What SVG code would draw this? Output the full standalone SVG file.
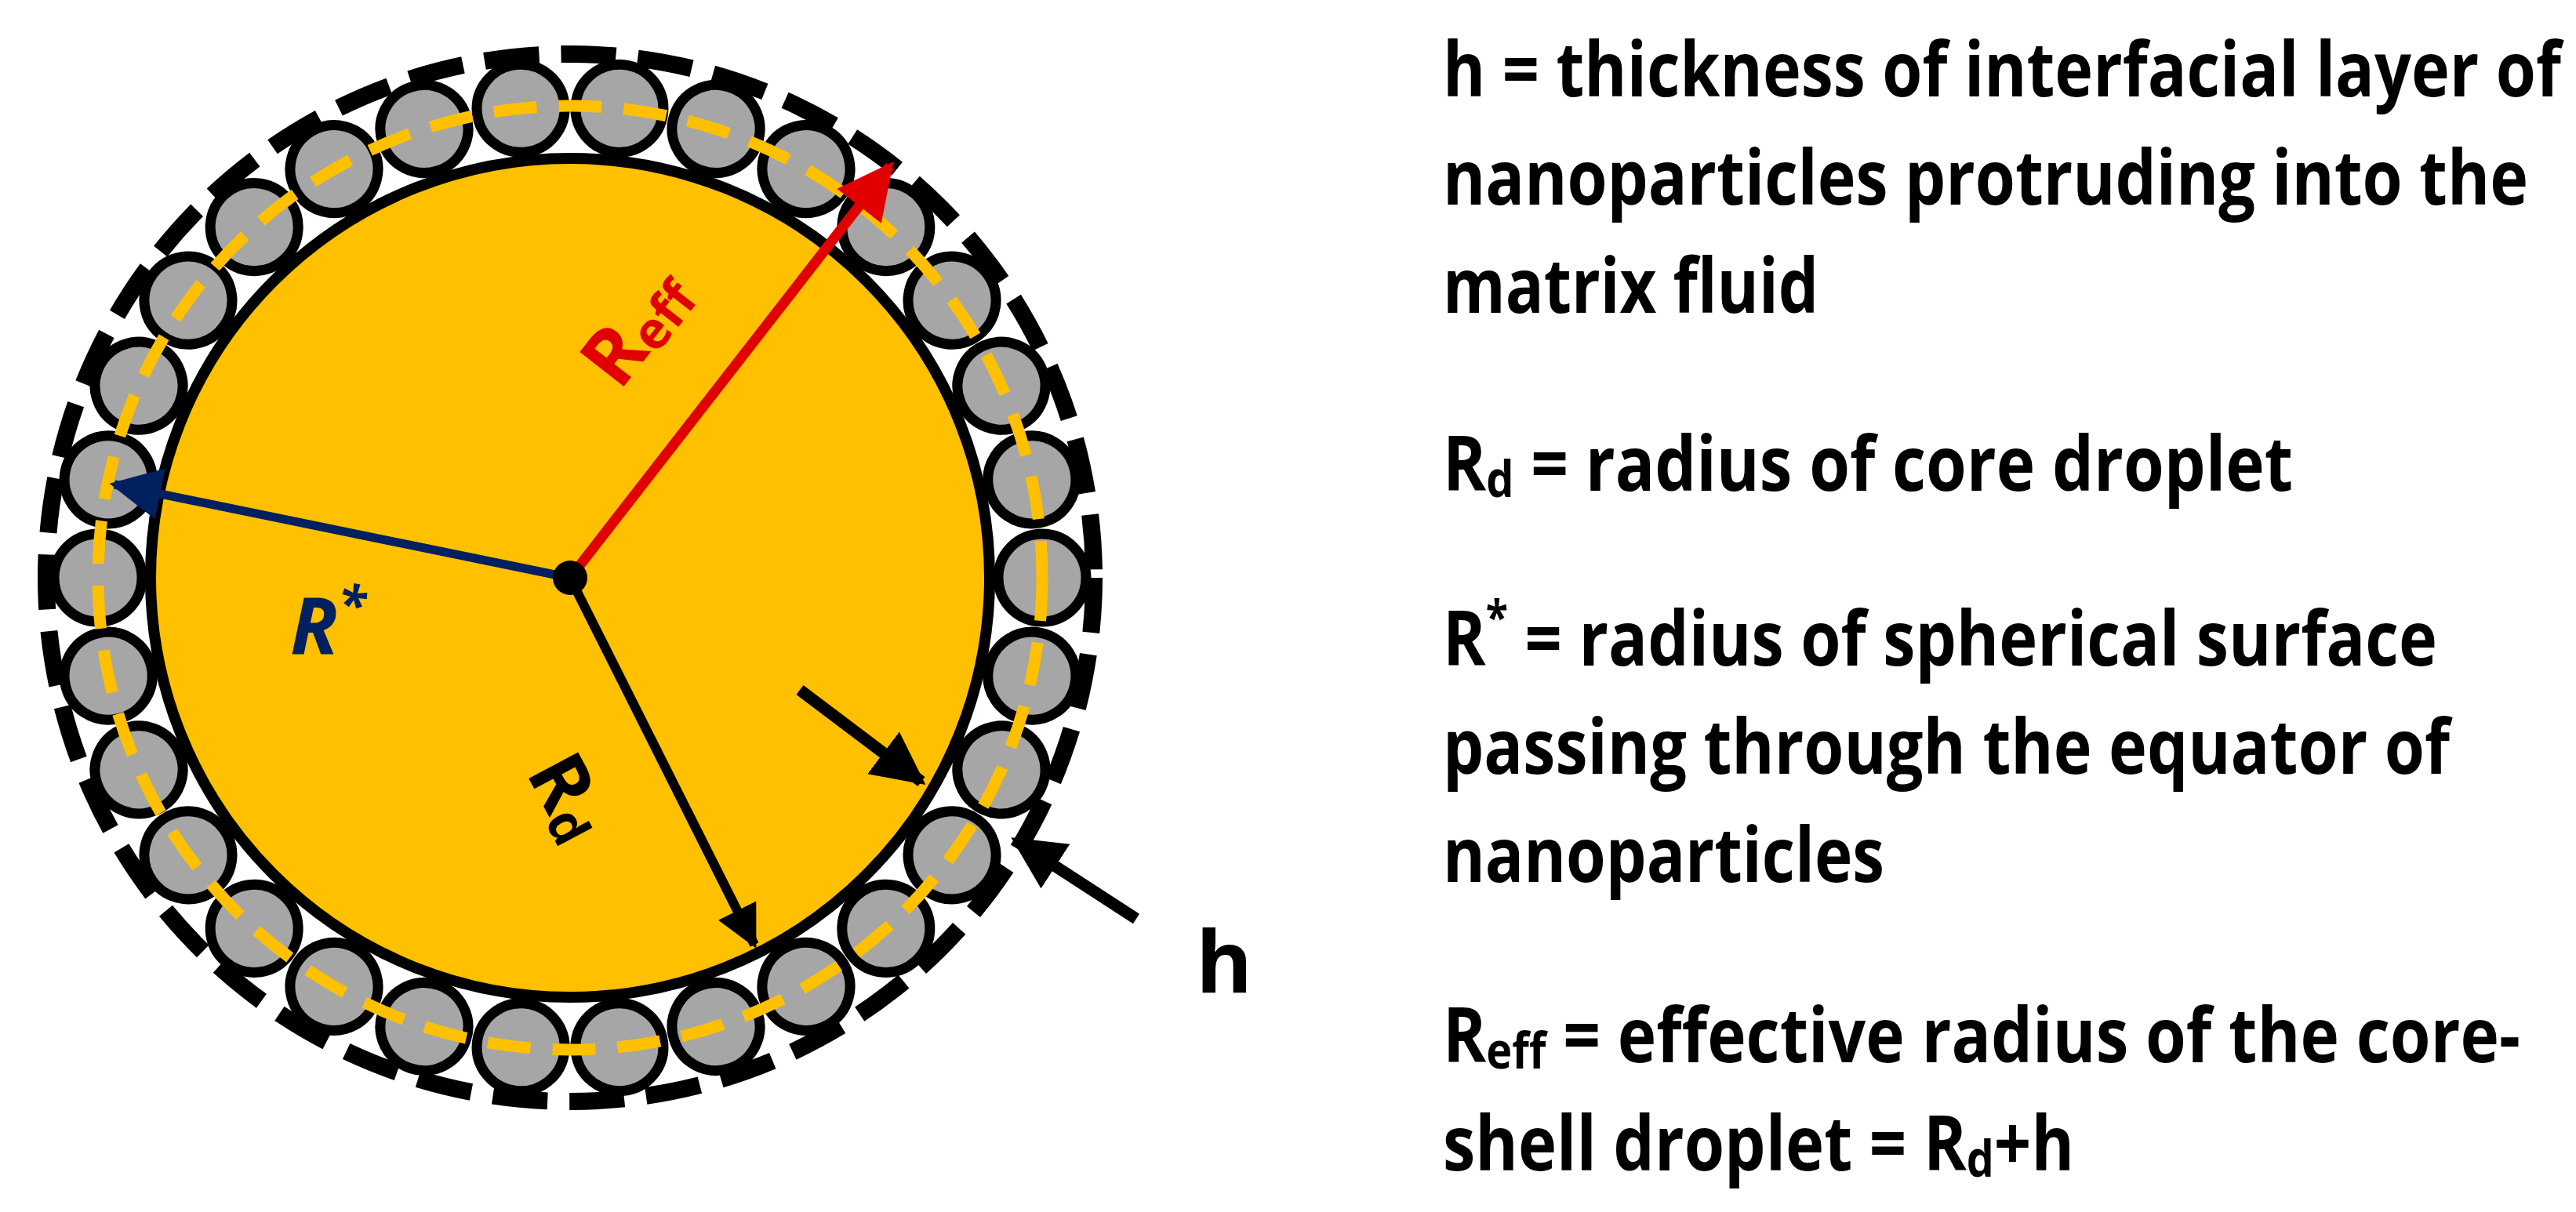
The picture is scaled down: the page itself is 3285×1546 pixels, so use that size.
<svg xmlns="http://www.w3.org/2000/svg" width="3285" height="1546" viewBox="0 0 3285 1546">
<defs>
<style>
.t{font-family:"Open Sans","Liberation Sans",sans-serif;font-weight:bold;font-size:96px;fill:#000}
.p{fill:#A6A6A6;stroke:#000;stroke-width:13}
</style>
<marker id="ab" viewBox="0 0 10 10" refX="9" refY="5" markerWidth="4.5" markerHeight="4.5" orient="auto" markerUnits="strokeWidth"><path d="M0,0L10,5L0,10z" fill="#000"/></marker>
<marker id="ar" viewBox="0 0 10 10" refX="9" refY="5" markerWidth="5.5" markerHeight="5.5" orient="auto" markerUnits="strokeWidth"><path d="M0,0L10,5L0,10z" fill="#E00000"/></marker>
<marker id="an" viewBox="0 0 10 10" refX="9" refY="5" markerWidth="6" markerHeight="6" orient="auto" markerUnits="strokeWidth"><path d="M0,0L10,5L0,10z" fill="#002060"/></marker>
<circle id="np" r="56" class="p"/>
</defs>
<rect width="3285" height="1546" fill="#fff"/>
<g id="droplet">
<circle cx="727" cy="737" r="668" fill="none" stroke="#000" stroke-width="22" stroke-dasharray="70 28"/>
<circle cx="727" cy="737" r="535" fill="#FFC000" stroke="#000" stroke-width="14"/>
<g id="particles" transform="translate(727 737)">
<use href="#np" transform="rotate(0) translate(602 0)"/><use href="#np" transform="rotate(12) translate(602 0)"/><use href="#np" transform="rotate(24) translate(602 0)"/><use href="#np" transform="rotate(36) translate(602 0)"/><use href="#np" transform="rotate(48) translate(602 0)"/><use href="#np" transform="rotate(60) translate(602 0)"/><use href="#np" transform="rotate(72) translate(602 0)"/><use href="#np" transform="rotate(84) translate(602 0)"/><use href="#np" transform="rotate(96) translate(602 0)"/><use href="#np" transform="rotate(108) translate(602 0)"/><use href="#np" transform="rotate(120) translate(602 0)"/><use href="#np" transform="rotate(132) translate(602 0)"/><use href="#np" transform="rotate(144) translate(602 0)"/><use href="#np" transform="rotate(156) translate(602 0)"/><use href="#np" transform="rotate(168) translate(602 0)"/><use href="#np" transform="rotate(180) translate(602 0)"/><use href="#np" transform="rotate(192) translate(602 0)"/><use href="#np" transform="rotate(204) translate(602 0)"/><use href="#np" transform="rotate(216) translate(602 0)"/><use href="#np" transform="rotate(228) translate(602 0)"/><use href="#np" transform="rotate(240) translate(602 0)"/><use href="#np" transform="rotate(252) translate(602 0)"/><use href="#np" transform="rotate(264) translate(602 0)"/><use href="#np" transform="rotate(276) translate(602 0)"/><use href="#np" transform="rotate(288) translate(602 0)"/><use href="#np" transform="rotate(300) translate(602 0)"/><use href="#np" transform="rotate(312) translate(602 0)"/><use href="#np" transform="rotate(324) translate(602 0)"/><use href="#np" transform="rotate(336) translate(602 0)"/><use href="#np" transform="rotate(348) translate(602 0)"/>
</g>
<circle cx="727" cy="737" r="602" fill="none" stroke="#FFC000" stroke-width="15" stroke-dasharray="55 28"/>
</g>
<g id="connectors">
<line x1="727" y1="737" x2="1135" y2="212" stroke="#E00000" stroke-width="13" marker-end="url(#ar)"/>
<line x1="727" y1="737" x2="146" y2="618" stroke="#002060" stroke-width="11" marker-end="url(#an)"/>
<line x1="727" y1="737" x2="962" y2="1205" stroke="#000" stroke-width="12" marker-end="url(#ab)"/>
<line x1="1020" y1="880" x2="1175" y2="997" stroke="#000" stroke-width="15" marker-end="url(#ab)"/>
<line x1="1449" y1="1172" x2="1295" y2="1072" stroke="#000" stroke-width="15" marker-end="url(#ab)"/>
<circle cx="727" cy="737" r="22" fill="#000"/>
</g>
<g id="labels" font-family="'Open Sans','Liberation Sans',sans-serif" font-weight="bold">
<text transform="translate(790 500) rotate(-52)" font-size="100" fill="#E00000">R<tspan font-size="66" dy="8">eff</tspan></text>
<text x="370" y="835" font-size="100" fill="#002060" font-style="italic">R<tspan font-size="66" dy="-40">*</tspan></text>
<text transform="translate(670 985) rotate(62)" font-size="100" fill="#000">R<tspan font-size="66" dy="8">d</tspan></text>
<text x="1525" y="1266" font-size="110" fill="#000">h</text>
</g>
<g id="legend">
<text class="t" x="1840" y="123" textLength="1426" lengthAdjust="spacingAndGlyphs">h = thickness of interfacial layer of</text>
<text class="t" x="1840" y="261" textLength="1384" lengthAdjust="spacingAndGlyphs">nanoparticles protruding into the</text>
<text class="t" x="1840" y="399" textLength="479" lengthAdjust="spacingAndGlyphs">matrix fluid</text>
<text class="t" x="1840" y="626" textLength="1084" lengthAdjust="spacingAndGlyphs">R<tspan font-size="64" dy="8">d</tspan><tspan dy="-8"> = radius of core droplet</tspan></text>
<text class="t" x="1840" y="849" textLength="1268" lengthAdjust="spacingAndGlyphs">R<tspan font-size="60" dy="-40">*</tspan><tspan dy="40"> = radius of spherical surface</tspan></text>
<text class="t" x="1840" y="987" textLength="1284" lengthAdjust="spacingAndGlyphs">passing through the equator of</text>
<text class="t" x="1840" y="1125" textLength="563" lengthAdjust="spacingAndGlyphs">nanoparticles</text>
<text class="t" x="1840" y="1355" textLength="1374" lengthAdjust="spacingAndGlyphs">R<tspan font-size="64" dy="8">eff</tspan><tspan dy="-8"> = effective radius of the core-</tspan></text>
<text class="t" x="1840" y="1493" textLength="805" lengthAdjust="spacingAndGlyphs">shell droplet = R<tspan font-size="64" dy="8">d</tspan><tspan dy="-8">+h</tspan></text>
</g>
</svg>
